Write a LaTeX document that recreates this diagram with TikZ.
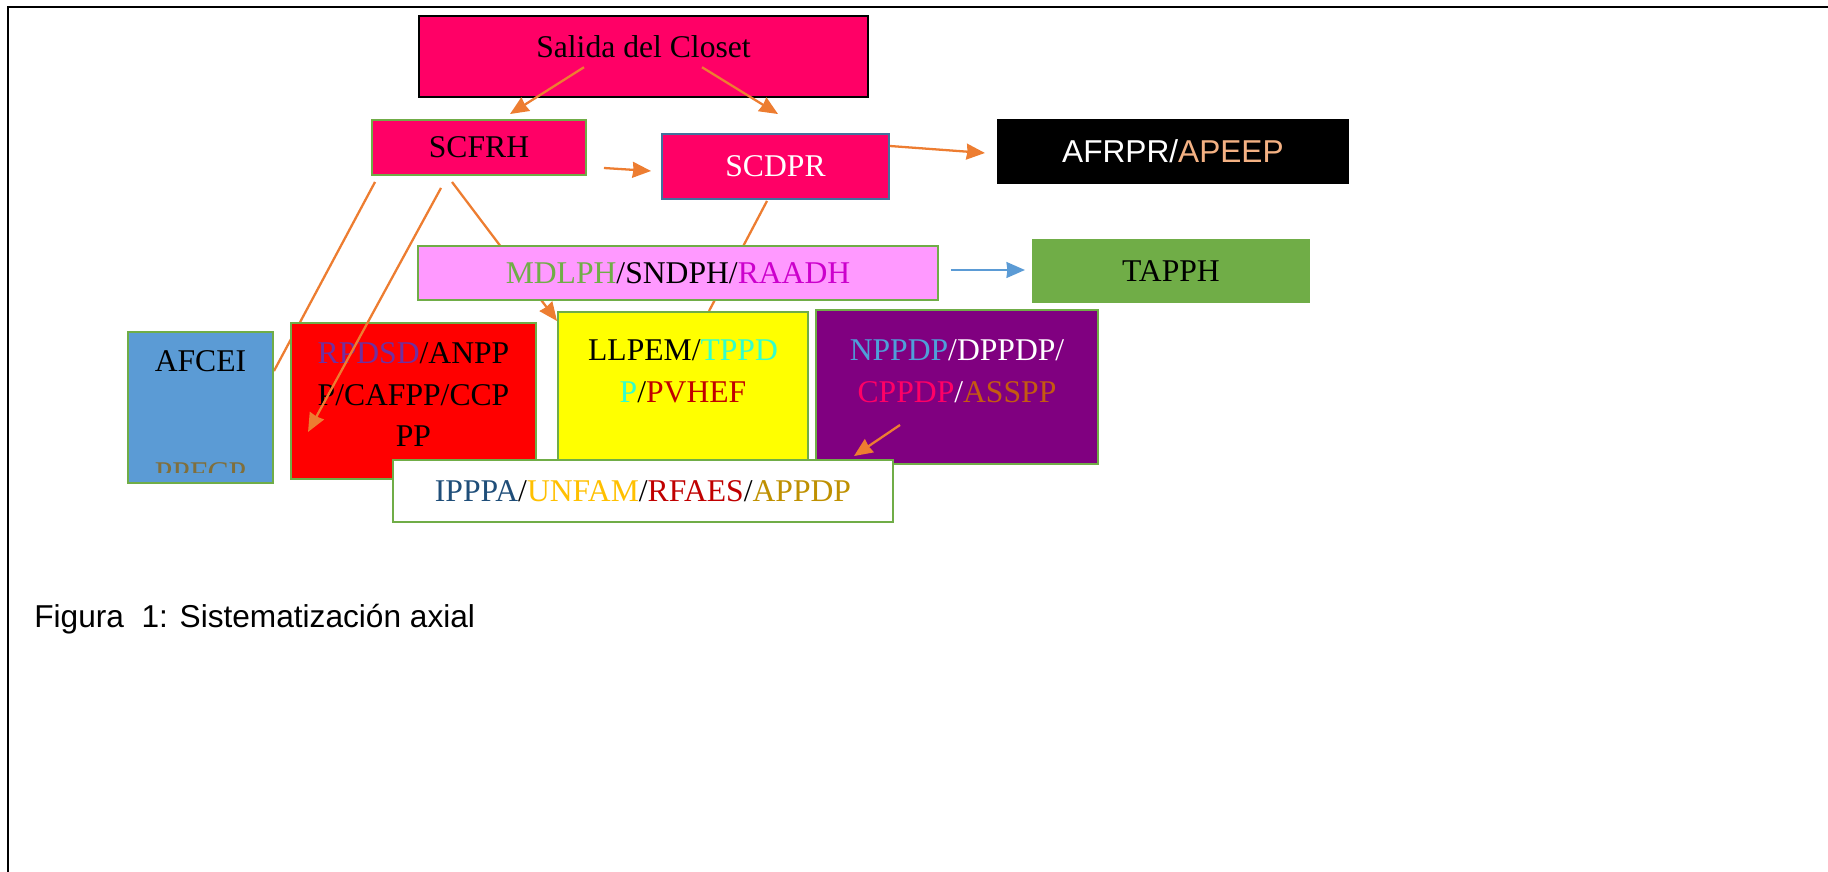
\documentclass[tikz,border=0pt]{standalone}
\usepackage{fontspec}
\setmainfont{Liberation Serif}
\setsansfont{Liberation Sans}
\usepackage{tikz}
\usetikzlibrary{positioning,calc,backgrounds}
\usetikzlibrary{shapes.geometric, arrows.meta}

\definecolor{hotpink}{HTML}{FF0066}
\definecolor{lightviolet}{HTML}{FF99FF}
\definecolor{boxgreen}{HTML}{70AD47}
\definecolor{boxblue}{HTML}{5B9BD5}
\definecolor{boxpurple}{HTML}{800080}
\definecolor{boxred}{HTML}{FF0000}
\definecolor{boxyellow}{HTML}{FFFF00}
\definecolor{linkorange}{HTML}{ED7D31}
\definecolor{edgeblue}{HTML}{41719C}
\definecolor{peach}{HTML}{F4B183}
\definecolor{raadh}{HTML}{CC00CC}
\definecolor{aqua}{HTML}{33FFCC}
\definecolor{darkred}{HTML}{C00000}
\definecolor{skyblue}{HTML}{4F9FD9}
\definecolor{rust}{HTML}{C55A11}
\definecolor{rpdsdpurple}{HTML}{7030A0}
\definecolor{navyblue}{HTML}{1F4E79}
\definecolor{amber}{HTML}{FFC000}
\definecolor{darkgold}{HTML}{BF9000}
\definecolor{oliveish}{HTML}{806F3C}

\newdimen\pxu
\pxu=0.2mm
\newcommand{\boxfont}{\fontsize{18}{23.8}\selectfont}

\tikzstyle{basicbox} = [rectangle, inner sep=0pt, text centered, draw=boxgreen, line width=1.1pt, font=\boxfont]
\tikzstyle{boxtext} = [inner sep=0pt, align=center, font=\boxfont]
\tikzstyle{arrow} = [line width=1.3pt,>={Stealth[length=10.5pt,width=9pt,inset=0.5pt]},->, draw=linkorange, fill=linkorange]
\tikzstyle{link} = [line width=1.3pt, draw=linkorange]

\begin{document}
\begin{tikzpicture}[x=0.2mm, y=-0.2mm]
	\useasboundingbox (0,0) rectangle (1828,872);
	
	% frame
	\draw [line width=1.2pt] (8,872) -- (8,7) -- (1828,7);
	
	\node (salida) [basicbox, draw=black, line width=1.4pt, fill=hotpink, minimum width=449\pxu, minimum height=81\pxu, text depth=11.7pt] at (643.5,56.5) {Salida del Closet};
	
	\node (scfrh) [basicbox, fill=hotpink, minimum width=214\pxu, minimum height=55\pxu] at (479,147.5) {SCFRH};
	
	\node (scdpr) [basicbox, draw=edgeblue, fill=hotpink, text=white, minimum width=227\pxu, minimum height=65\pxu] at (775.5,166.5) {SCDPR};
	
	\node (afrpr) [basicbox, draw=none, fill=black, font=\sffamily\boxfont, minimum width=352\pxu, minimum height=65\pxu, right=106\pxu of scdpr, yshift=15\pxu] {\textcolor{white}{AFRPR/}\textcolor{peach}{APEEP}};
	
	\node (mdlph) [basicbox, fill=lightviolet, minimum width=520\pxu, minimum height=54\pxu] at (678,273) {\textcolor{boxgreen}{MDLPH}/SNDPH/\textcolor{raadh}{RAADH}};
	
	\node (tapph) [basicbox, draw=none, fill=boxgreen, minimum width=278\pxu, minimum height=64\pxu, right=92\pxu of mdlph, yshift=2\pxu] {TAPPH};
	
	\node (afcei) [basicbox, fill=boxblue, minimum width=145\pxu, minimum height=151\pxu] at (200.5,407.5) {};
	\node (afceitext) [boxtext, below=19\pxu of afcei.north] {AFCEI};
	\begin{scope}
		\clip (afcei.north west) rectangle ([yshift=11\pxu]afcei.south east);
		\node (ppfcp) [boxtext, anchor=base, text=oliveish] at (afcei.south) {PPFCP};
	\end{scope}
	
	\node (rpdsd) [basicbox, fill=boxred, minimum width=245\pxu, minimum height=156\pxu] at (413.5,401) {};
	\node (rpdsdtext) [boxtext, below=20\pxu of rpdsd.north] {\textcolor{rpdsdpurple}{RPDSD}/ANPP\\P/CAFPP/CCP\\PP};
	
	\node (llpem) [basicbox, fill=boxyellow, minimum width=250\pxu, minimum height=150\pxu] at (683,387) {};
	\node (llpemtext) [boxtext, below=28\pxu of llpem.north] {LLPEM/\textcolor{aqua}{TPPD}\\\textcolor{aqua}{P}/\textcolor{darkred}{PVHEF}};
	
	\node (nppdp) [basicbox, fill=boxpurple, minimum width=282\pxu, minimum height=154\pxu] at (957,387) {};
	\node (nppdptext) [boxtext, below=30\pxu of nppdp.north] {\textcolor{skyblue}{NPPDP}\textcolor{white}{/DPPDP/}\\\textcolor{hotpink}{CPPDP}\textcolor{white}{/}\textcolor{rust}{ASSPP}};
	
	\node (ipppa) [basicbox, fill=white, minimum width=500\pxu, minimum height=62\pxu] at (643,491) {\textcolor{navyblue}{IPPPA}/\textcolor{amber}{UNFAM}/\textcolor{darkred}{RFAES}/\textcolor{darkgold}{APPDP}};
	
	\node (caption) [anchor=base west, inner sep=0pt, font=\sffamily\fontsize{18}{22}\selectfont] at (34,627) {Figura~~1: Sistematización axial};
	
	\draw [arrow] ($(salida.south)+(-59.5,-31)$) -- ($(scfrh.north)+(31,-5)$);
	\draw [arrow] ($(salida.south)+(58.5,-31)$) -- ($(scdpr.north)+(2.5,-19)$);
	\draw [arrow] ($(scfrh.east)+(17,20.5)$) -- ($(scdpr.west)+(-10,4.5)$);
	\draw [arrow] ($(scdpr.east)+(0,-20.5)$) -- ($(afrpr.west)+(-11,1.5)$);
	\draw [arrow, draw=boxblue, fill=boxblue] ($(mdlph.east)+(12,-3)$) -- ($(tapph.west)+(-6,-1)$);
	\draw [arrow] ($(scfrh.south)+(-38,12)$) -- ($(rpdsd.south west)+(18,-48)$);
	\draw [arrow] ($(nppdp.south)+(-57,-40)$) -- ($(ipppa.north east)+(-40,-3)$);
	
	\begin{scope}[on background layer]
		\draw [link] ($(scfrh.south west)+(4,6)$) -- ($(afcei.east)+(0,-36.5)$);
		\draw [arrow] ($(scfrh.south)+(-27,6)$) -- ($(llpem.north west)+(0,10)$);
		\draw [link] ($(scdpr.south)+(-8.5,1)$) -- ($(llpem.north)+(26,0)$);
	\end{scope}
\end{tikzpicture}
\end{document}
